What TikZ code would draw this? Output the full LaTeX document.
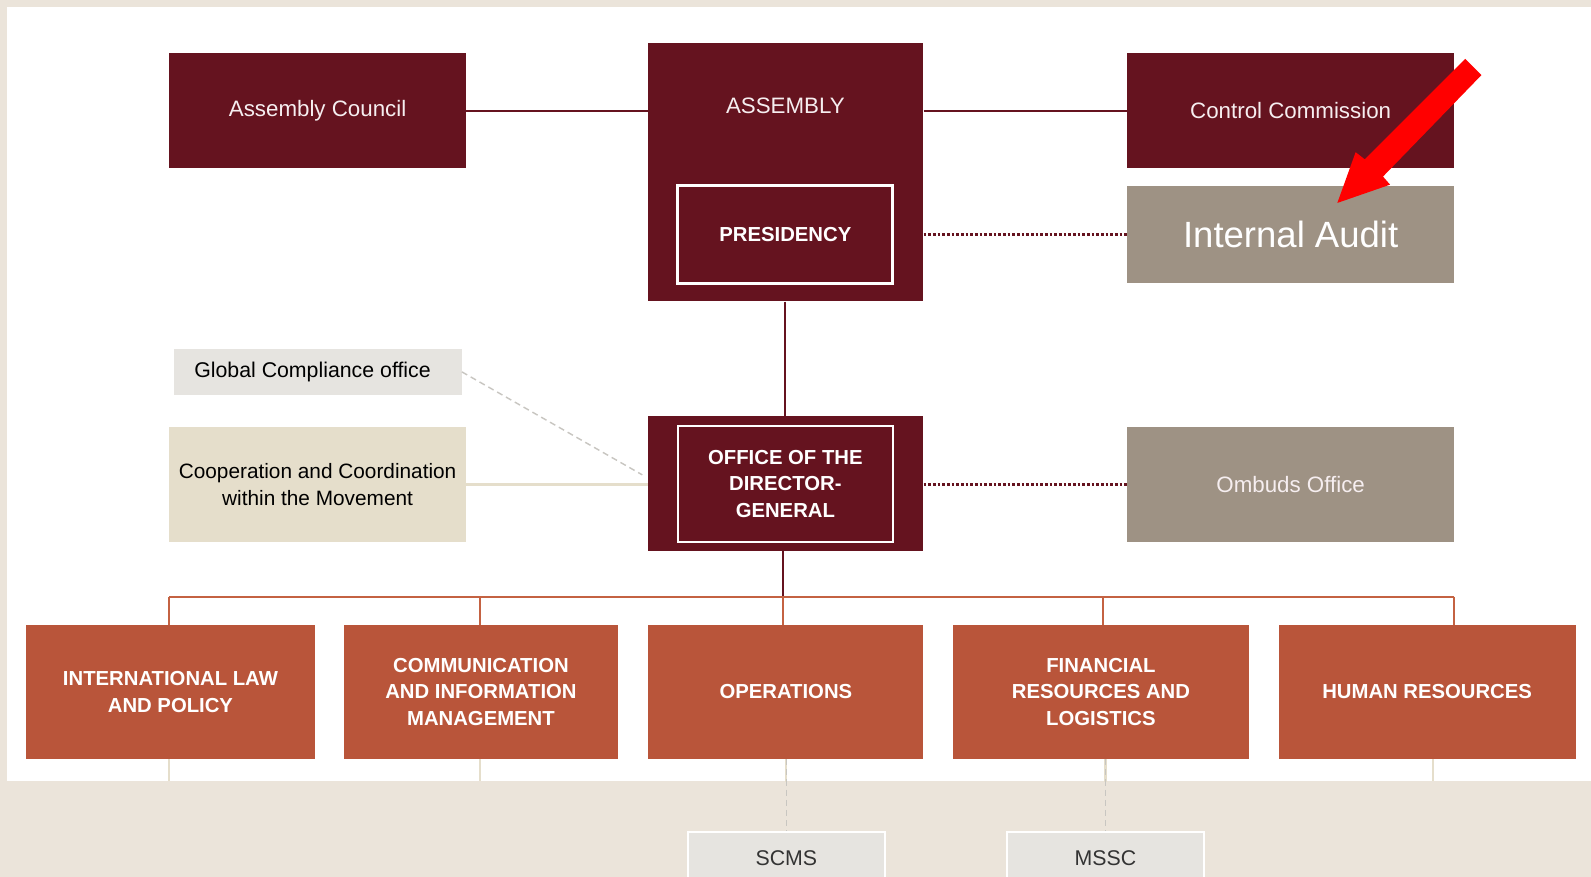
\documentclass[tikz,border=0pt]{standalone}
\usepackage{fontspec}
\setmainfont{Liberation Sans}
\usetikzlibrary{calc}
\definecolor{maroon}{RGB}{101,19,31}
\definecolor{rust}{RGB}{185,85,58}
\definecolor{busline}{RGB}{196,98,66}
\definecolor{taupe}{RGB}{158,146,132}
\definecolor{sand}{RGB}{229,222,203}
\definecolor{lightbox}{RGB}{230,228,224}
\definecolor{pagebg}{RGB}{235,228,218}
\definecolor{paletext}{RGB}{246,238,240}
\definecolor{dashgray}{RGB}{200,198,193}
\begin{document}
\begin{tikzpicture}[x=1pt,y=-1pt,
  bw/.style={minimum width=#1pt},
  bh/.style={minimum height=#1pt},
  base/.style={rectangle, inner sep=0pt, align=center},
  darkbox/.style={base, fill=maroon, text=paletext, font=\fontsize{22}{26}\selectfont},
  greybox/.style={base, fill=taupe, text=paletext, font=\fontsize{22}{26}\selectfont},
  framebox/.style={base, draw=white, line width=3pt, text=white, font=\bfseries\fontsize{20}{26}\selectfont},
  unitbox/.style={base, fill=rust, text=white, font=\bfseries\fontsize{20}{26}\selectfont, bw=#1, bh=132},
  lightnode/.style={base, fill=lightbox, text=black, font=\fontsize{21}{26}\selectfont},
  sandnode/.style={base, fill=sand, text=black, font=\fontsize{20.5}{26}\selectfont},
  subbox/.style={base, fill=lightbox, draw=white, line width=2pt, text=black!80, font=\fontsize{21}{26}\selectfont, bw=194, bh=52},
  solidlink/.style={draw=maroon, line width=2pt},
  dotlink/.style={draw=maroon, line width=2.6pt, dash pattern=on 2.6pt off 2pt},
  buslink/.style={draw=busline, line width=2pt},
  sandlink/.style={draw=sand, line width=2pt},
  greydash/.style={draw=dashgray, line width=1.5pt, dash pattern=on 6pt off 4pt}
]
\useasboundingbox (0,0) rectangle (1568,864);
\fill[pagebg] (0,0) rectangle (1568,864);
\fill[white] (7,7) rectangle (1568,770);

% top row
\node[darkbox, bw=292, bh=114] (ac) at (313,109) {Assembly Council};
\node[darkbox, bw=271, bh=255] (asm) at (774.5,169.5) {};
\node[base, text=paletext, font=\fontsize{22}{26}\selectfont] (asmlbl) at (774,104) {ASSEMBLY};
\node[framebox, bw=212, bh=96] (pres) at (774,231) {PRESIDENCY};
\node[darkbox, bw=322, bh=114] (cc) at (1272,109) {Control Commission};
\node[greybox, bw=322, bh=96, text=white, font=\fontsize{36}{40}\selectfont] (ia) at (1272,231) {\raisebox{-2pt}{Internal Audit}};

% middle row
\node[lightnode, bw=284, bh=45] (gco) at (313,366.5) {\hspace*{-10pt}Global Compliance office};
\node[sandnode, bw=292, bh=113] (coop) at (313,477.5) {Cooperation and Coordination\\within the Movement};
\node[darkbox, bw=271, bh=133] (odg) at (774.5,476.5) {};
\node[framebox, line width=2.5pt, bw=212, bh=114] (odgin) at (774,477) {OFFICE OF THE\\DIRECTOR-\\GENERAL};
\node[greybox, bw=322, bh=113] (omb) at (1272,477.5) {Ombuds Office};

% bottom row
\node[unitbox=284] (ilp) at (168,682) {INTERNATIONAL LAW\\AND POLICY};
\node[unitbox=270] (cim) at (474,682) {COMMUNICATION\\AND INFORMATION\\MANAGEMENT};
\node[unitbox=271] (ops) at (774.5,682) {OPERATIONS};
\node[unitbox=292] (frl) at (1085,682) {FINANCIAL\\RESOURCES AND\\LOGISTICS};
\node[unitbox=293] (hr) at (1406.5,682) {HUMAN RESOURCES};

\node[subbox] (scms) at (775,846) {SCMS};
\node[subbox] (mssc) at (1089.5,846) {MSSC};

% connectors top
\draw[solidlink] (ac.east) -- (ac.east -| asm.west);
\draw[solidlink] (cc.west -| asm.east) -- (cc.west);
\draw[dotlink] (ia.west -| asm.east) -- (ia.west);
\draw[solidlink] (asm.south -| pres.south) -- (odg.north -| pres.south);

% middle connectors
\coordinate (gend) at (633,468);
\draw[greydash, line width=1.4pt] (gco.east) -- (gend);
\draw[sandlink] (coop.east) -- (coop.east -| odg.west);
\draw[dotlink] (omb.west -| odg.east) -- (omb.west);

% bus
\coordinate (busL) at (167,588);
\coordinate (busR) at (1433,588);
\coordinate (busM) at (772,588);
\draw[solidlink] (odg.south -| busM) -- (busM);
\draw[buslink] (busL) -- (busR);
\draw[buslink] (busL) -- (busL |- ilp.north);
\draw[buslink] (473,588) -- (473,616);
\draw[buslink] (busM) -- (busM |- ops.north);
\draw[buslink] (1087,588) -- (1087,616);
\draw[buslink] (busR) -- (busR |- hr.north);

% below units
\coordinate (ilpfoot) at (167,770);
\coordinate (cimfoot) at (473,770);
\coordinate (hrfoot) at (1412,770);
\draw[sandlink] (ilpfoot |- ilp.south) -- (ilpfoot);
\draw[sandlink] (cimfoot |- cim.south) -- (cimfoot);
\draw[sandlink] (hrfoot |- hr.south) -- (hrfoot);
\draw[sandlink] (ops.south -| scms.north) -- ++(0,22);
\draw[sandlink] (frl.south -| mssc.north) -- ++(0,22);
\draw[greydash] (ops.south -| scms.north) -- (scms.north);
\draw[greydash] (frl.south -| mssc.north) -- (mssc.north);

% red pointer arrow
\fill[red] (1444,58) -- (1460,74) -- (1363,174) -- (1370,182) -- (1318,200) -- (1336,150) -- (1345,157) -- cycle;
\end{tikzpicture}
\end{document}
